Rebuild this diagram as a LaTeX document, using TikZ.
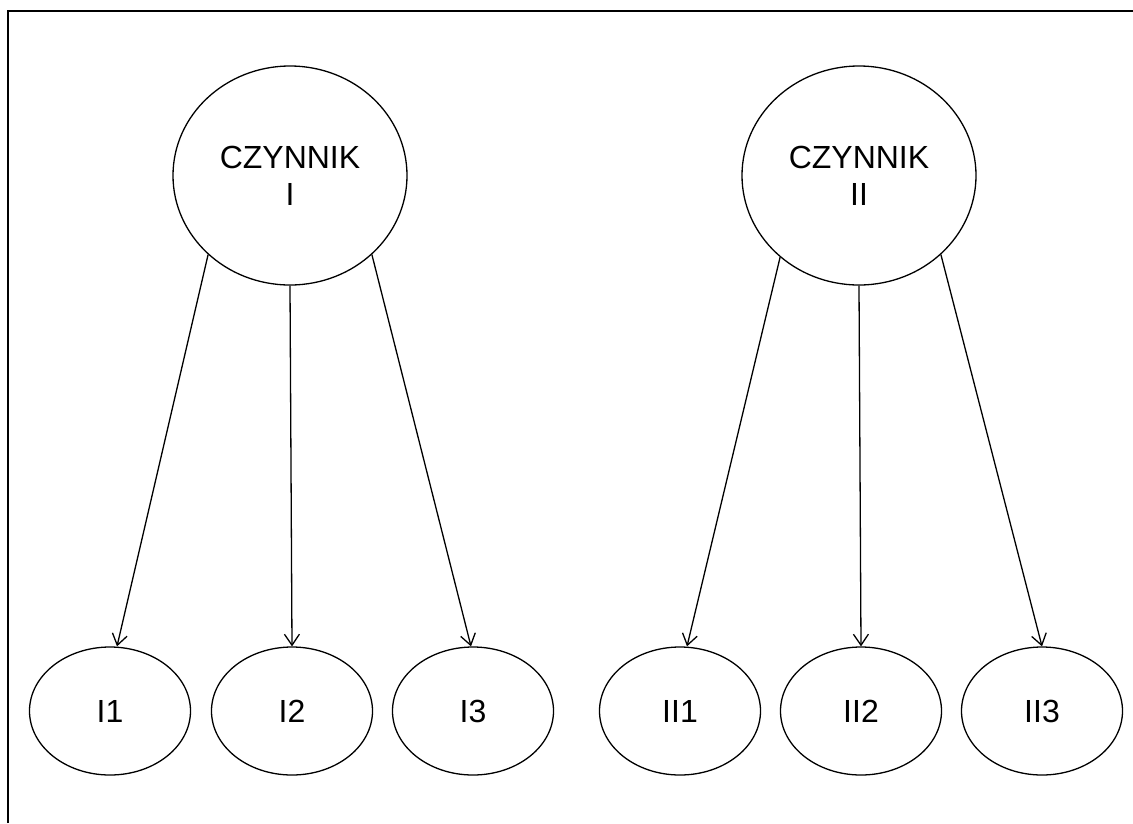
\documentclass[tikz,border=0pt]{standalone}
\usepackage{fontspec}
\setmainfont{Liberation Sans}
\usetikzlibrary{arrows.meta,shapes.geometric}
\begin{document}
\begin{tikzpicture}[x=1pt,y=-1pt,
  big/.style={draw, ellipse, line width=1.3pt, minimum width=234pt, minimum height=219pt, inner sep=0pt, align=center, font=\fontsize{32}{37}\selectfont},
  small/.style={draw, ellipse, line width=1.3pt, minimum width=161pt, minimum height=128pt, inner sep=0pt, font=\fontsize{32}{37}\selectfont},
  arr/.style={line width=1.3pt, -{Straight Barb[length=11pt,width=15pt]}}]
\useasboundingbox (0,0) rectangle (1133,823);
\draw[line width=2pt] (8,823) -- (8,11) -- (1133,11);
\node[big] (c1) at (290,175.5) {CZYNNIK\\I};
\node[big] (c2) at (859,175.5) {CZYNNIK\\II};
\node[small] (a1) at (110,711) {I1};
\node[small] (a2) at (292,711) {I2};
\node[small] (a3) at (473,711) {I3};
\node[small] (b1) at (680,711) {II1};
\node[small] (b2) at (861,711) {II2};
\node[small] (b3) at (1042,711) {II3};
\draw[arr] (c1.224) -- ([xshift=7pt]a1.north);
\draw[arr] (c1.south) -- (a2.north);
\draw[arr] (c1.316) -- ([xshift=-2pt]a3.north);
\draw[arr] (c2.226) -- ([xshift=7pt]b1.north);
\draw[arr] (c2.south) -- (b2.north);
\draw[arr] (c2.316) -- (b3.north);
\end{tikzpicture}
\end{document}
